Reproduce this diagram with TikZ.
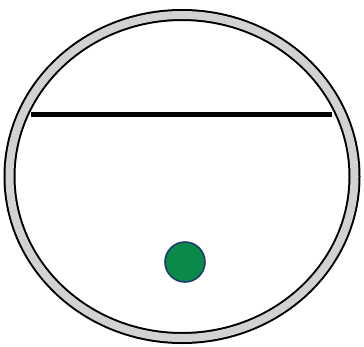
\documentclass[tikz,border=0pt]{standalone}
\usepackage{tikz}
\usepackage{xcolor}

\definecolor{ringgray}{HTML}{D2D2D2}
\definecolor{dotgreen}{HTML}{0A8A48}
\definecolor{dotblue}{HTML}{1E3A6E}

\begin{document}
\begin{tikzpicture}[
            x=1pt, y=-1pt,
            ringline/.style={black, line width=12pt},
            ringfill/.style={ringgray, line width=8pt},
            bar/.style={black, line width=5pt},
            dot/.style={fill=dotgreen, draw=dotblue, line width=1.6pt}
        ]

        \useasboundingbox (0,0) rectangle (364,346);

        \coordinate (centre) at (182,176.5);
        \coordinate (barleft) at (31,114);
        \coordinate (barright) at (332,114);
        \coordinate (ball) at (185,262);

        % ring
        \draw[ringline] (centre) ellipse [x radius=172.5, y radius=161.5];
        \draw[ringfill] (centre) ellipse [x radius=172.5, y radius=161.5];

        % bar and ball
        \draw[bar] (barleft) -- (barright);
        \draw[dot] (ball) circle [radius=20];

        \end{tikzpicture}
\end{document}
